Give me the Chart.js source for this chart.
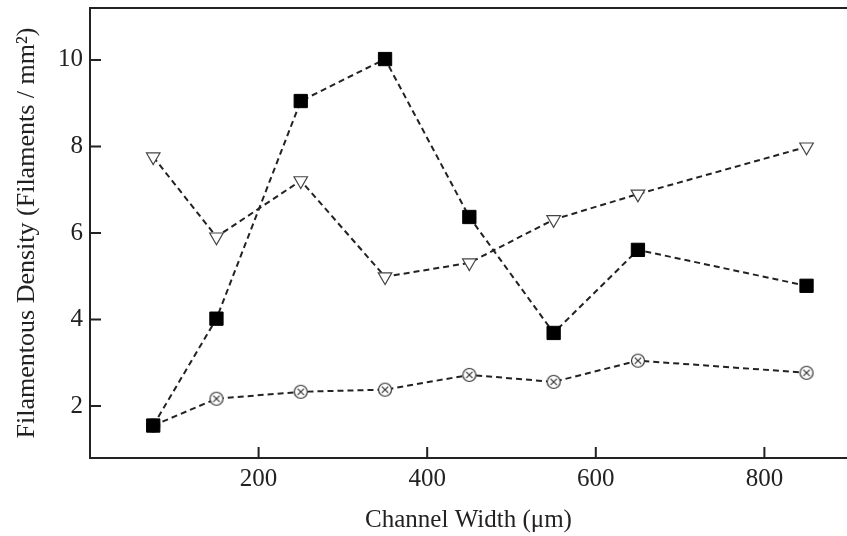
<!DOCTYPE html>
<html>
<head>
<meta charset="utf-8">
<script src="https://cdn.jsdelivr.net/npm/chart.js@4/dist/chart.umd.min.js"></script>
<style>
  html, body { margin: 0; padding: 0; background: #fff; overflow: hidden; }
  #wrap { width: 847px; height: 536px; }
</style>
</head>
<body>
<div id="wrap"><canvas id="chart" width="847" height="536"></canvas></div>
<script>
// channel widths (um)
const widths = [75, 150, 250, 350, 450, 550, 650, 850];
// filament densities
const squareSeries = [1.55, 4.02, 9.05, 10.02, 6.37, 3.69, 5.61, 4.78];
const triangleSeries = [7.76, 5.91, 7.21, 4.99, 5.31, 6.31, 6.9, 7.99];
const circleSeries = [1.55, 2.17, 2.33, 2.38, 2.72, 2.56, 3.05, 2.77];
const xTicks = [200, 400, 600, 800];
const yTicks = [2, 4, 6, 8, 10];

const ink = "#222";
const serif = "'Liberation Serif', 'DejaVu Serif', serif";

// little circle with an x inside, used as a point style
function circleCross() {
  const c = document.createElement("canvas");
  c.width = 16;
  c.height = 16;
  const g = c.getContext("2d");
  g.fillStyle = "#fff";
  g.strokeStyle = "#333";
  g.lineWidth = 1.2;
  g.beginPath();
  g.arc(8, 8, 6.5, 0, Math.PI * 2);
  g.fill();
  g.stroke();
  g.beginPath();
  g.moveTo(4.8, 4.8); g.lineTo(11.2, 11.2);
  g.moveTo(11.2, 4.8); g.lineTo(4.8, 11.2);
  g.stroke();
  return c;
}

function toPoints(values) {
  return widths.map((w, i) => ({ x: w, y: values[i] }));
}

// ticks pointing into the plot, plus the top frame line
const frameTicks = {
  id: "frameTicks",
  afterDraw(chart) {
    const ctx = chart.ctx;
    const area = chart.chartArea;
    const xs = chart.scales.x;
    const ys = chart.scales.y;
    ctx.save();
    ctx.strokeStyle = ink;
    ctx.lineWidth = 2;
    ctx.beginPath();
    ctx.moveTo(area.left - 1, area.top);
    ctx.lineTo(area.right + 2, area.top);
    xs.ticks.forEach((t) => {
      const px = xs.getPixelForValue(t.value);
      ctx.moveTo(px, area.bottom);
      ctx.lineTo(px, area.bottom - 11);
    });
    ys.ticks.forEach((t) => {
      const py = ys.getPixelForValue(t.value);
      ctx.moveTo(area.left, py);
      ctx.lineTo(area.left + 11, py);
    });
    ctx.stroke();
    ctx.restore();
  },
};

const lineStyle = {
  showLine: true,
  borderColor: ink,
  borderWidth: 2,
  borderDash: [6, 4],
  tension: 0,
};

new Chart(document.querySelector("#chart").getContext("2d"), {
  type: "scatter",
  data: {
    datasets: [
      {
        ...lineStyle,
        label: "squares",
        data: toPoints(squareSeries),
        pointStyle: "rect",
        pointRadius: 9.4,
        pointBackgroundColor: "#000",
        pointBorderColor: "#000",
        pointBorderWidth: 1,
      },
      {
        ...lineStyle,
        label: "triangles",
        data: toPoints(triangleSeries),
        pointStyle: "triangle",
        rotation: 180,
        pointRadius: 7.8,
        pointBackgroundColor: "#fff",
        pointBorderColor: "#444",
        pointBorderWidth: 1.2,
      },
      {
        ...lineStyle,
        label: "circles",
        data: toPoints(circleSeries),
        pointStyle: circleCross(),
        pointRadius: 8,
      },
    ],
  },
  options: {
    responsive: false,
    animation: false,
    layout: { autoPadding: false, padding: { top: 8, right: 0, bottom: 0, left: 0 } },
    plugins: { legend: { display: false }, tooltip: { enabled: false } },
    scales: {
      x: {
        type: "linear",
        min: 0,
        max: 898,
        afterBuildTicks: (scale) => {
          scale.ticks = xTicks.map((v) => ({ value: v }));
        },
        afterFit: (scale) => {
          scale.height = 78;
          scale.paddingLeft = 0;
          scale.paddingRight = 0;
        },
        grid: { display: false, drawTicks: false },
        border: { display: true, color: ink, width: 2 },
        ticks: {
          color: ink,
          padding: 6,
          font: { family: serif, size: 25 },
        },
        title: {
          display: true,
          text: "Channel Width (\u03bcm)",
          color: ink,
          font: { family: serif, size: 25 },
          padding: { top: 0, bottom: 1 },
        },
      },
      y: {
        type: "linear",
        min: 0.8,
        max: 11.2,
        afterBuildTicks: (scale) => {
          scale.ticks = yTicks.map((v) => ({ value: v }));
        },
        afterFit: (scale) => {
          scale.width = 90;
          scale.paddingTop = 0;
          scale.paddingBottom = 0;
        },
        grid: { display: false, drawTicks: false },
        border: { display: true, color: ink, width: 2 },
        ticks: {
          color: ink,
          padding: 7,
          font: { family: serif, size: 25 },
        },
        title: {
          display: true,
          text: "Filamentous Density (Filaments / mm\u00b2)",
          color: ink,
          font: { family: serif, size: 26 },
          padding: { top: 12, bottom: 0 },
        },
      },
    },
  },
  plugins: [frameTicks],
});
</script>
</body>
</html>
